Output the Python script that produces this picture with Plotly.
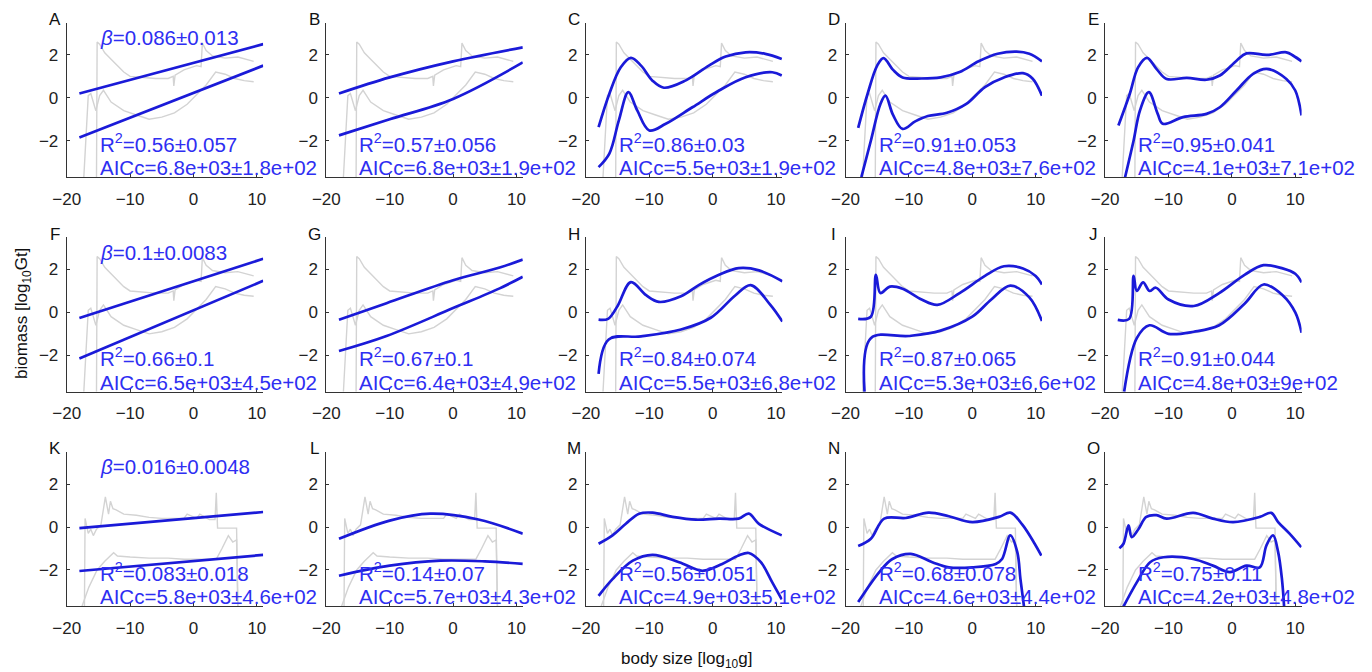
import plotly.graph_objects as go

# ---------------- data ----------------
panel_letters = ["A", "B", "C", "D", "E", "F", "G", "H", "I", "J", "K", "L", "M", "N", "O"]

# gray data (rows 1-2)
gray_up_x = [-15.3, -15.2, -14.8, -14.0, -13.0, -12.0, -11.0, -10.0, -8.0, -6.0, -4.0, -3.2, -3.1, -2.9,
             -1.5, 0.5, 1.2, 1.4, 2.0, 3.0, 5.0, 7.0, 9.5]
gray_up_y = [-3.7, 2.6, 2.5, 2.1, 1.8, 1.5, 1.2, 1.0, 0.95, 0.9, 0.9, 1.0, 0.55, 1.05,
             1.3, 1.5, 1.45, 2.55, 2.2, 1.95, 1.85, 1.9, 1.7]
gray_lo_x = [-17.3, -17.0, -16.6, -16.2, -15.8, -15.4, -14.8, -14.2, -13.0, -11.0, -9.0, -7.0, -5.0,
             -3.0, -1.0, 0.0, 2.0, 3.5, 5.0, 6.5, 8.0, 9.5]
gray_lo_y = [-3.7, -2.0, 0.1, 0.2, -0.2, -0.6, 0.1, 0.35, -0.2, -0.6, -0.8, -1.0, -0.9,
             -0.7, -0.3, 0.0, 0.6, 1.2, 1.1, 0.9, 0.8, 0.75]
# gray data (row 3)
gray3_up_x = [-17.2, -17.1, -16.6, -16.2, -15.8, -15.3, -14.6, -13.9, -13.4, -13.1, -12.7, -12.2, -11.0,
              -9.0, -7.0, -5.0, -3.0, -1.5, -1.0, 0.5, 1.0, 2.5, 3.4, 3.6, 3.8, 5.0, 6.8, 7.0]
gray3_up_y = [-3.7, 0.4, -0.3, -0.1, -0.4, -0.1, 0.1, 1.4, 0.6, 1.2, 0.85, 0.8, 0.6,
              0.55, 0.45, 0.4, 0.4, 0.4, 0.6, 0.4, 0.6, 0.35, 0.35, 1.6, -0.05, -0.05, -0.05, -3.7]
gray3_lo_x = [-17.6, -16.5, -15.2, -14.0, -12.6, -12.0, -10.0, -7.0, -4.0, -1.5, 1.0, 3.6, 4.5,
              5.5, 6.2, 6.8, 7.0]
gray3_lo_y = [-3.7, -2.8, -2.0, -1.6, -1.2, -1.35, -1.4, -1.45, -1.45, -1.5, -1.5, -1.5, -1.0,
              -0.4, -0.7, -0.6, -3.7]

# blue fits: upper and lower curve per panel
fit_x = {
    "A": ([-18, 11], [-18, 11]),
    "B": ([-18, -10, 0, 11], [-18, -10, 0, 11]),
    "C": ([-18, -16.3, -14.5, -12.9, -11.3, -9.5, -7.7, -4.3, -0.6, 2.05, 5.2, 8.3, 10.9],
          [-18, -16.3, -14.8, -13.3, -11.9, -10, -7.4, -3.2, 1.0, 5.2, 9.4, 10.9]),
    "D": ([-18, -16.5, -15, -14, -12.5, -11, -8, -5, -2, 1, 4, 7, 9, 11],
          [-17.5, -16, -14.5, -13.7, -12.5, -11, -9, -7, -4, -1, 2, 5, 8, 9.5, 11]),
    "E": ([-17.9, -16.1, -14.8, -13.4, -11.9, -10.3, -7.1, -4, -1.9, 0.73, 2.3, 5.5, 8.6, 9.7, 11],
          [-16.85, -15.5, -14.5, -13.1, -11.7, -10.9, -7.7, -4, -1.9, 0.73, 3.35, 5.5, 8.6, 10, 11]),
    "F": ([-18, 11], [-18, 11]),
    "G": ([-18, -10.5, 0, 7.35, 11], [-18, -10.5, 0, 7.35, 11]),
    "H": ([-18, -16.5, -15, -12.9, -10.5, -8.5, -5, -2.2, 1, 4.1, 7.3, 11],
          [-18, -16.4, -11.3, -5, -0.3, 3.6, 6, 9.1, 11]),
    "I": ([-18, -16, -15.2, -14.5, -13, -11, -8, -5.5, -2, 2, 5, 8, 10, 11],
          [-17, -16, -10, -5, 0, 3, 6, 9, 11]),
    "J": ([-18, -16.2, -15.5, -15, -14, -13, -12, -10, -6, -2, 2, 5, 8, 10, 11],
          [-17, -15, -13, -10, -6, -2, 2, 5, 8, 10, 11]),
    "K": ([-18, 11], [-18, 11]),
    "L": ([-18, -10, -3.6, 4, 11], [-18, -10, -2, 5, 11]),
    "M": ([-18, -15.8, -13.7, -11.6, -9.5, -6.3, -2.65, 1, 4.1, 5.7, 7.3, 10.9],
          [-18, -15.8, -12.6, -9.5, -5.3, -1.6, 1.5, 4.1, 5.7, 7.6, 9.4, 10.9]),
    "N": ([-18, -16, -13.9, -10.5, -6.9, -3.7, 0, 4.2, 6, 7.9, 10.9],
          [-18, -14.7, -12.6, -9.7, -6.3, -3.7, 0, 3.7, 4.7, 6, 7.1, 7.6, 8.2]),
    "O": ([-17.75, -17.1, -16.3, -15.8, -14.7, -13.5, -11.9, -10.3, -6.1, -3, 0.2, 4.4, 6.2, 7.3, 9.1, 10.95],
          [-17.2, -15, -12.9, -10.8, -6.1, -3, -0.3, 2.3, 4.4, 5.45, 6.5, 7.3, 7.9, 8.25]),
}
fit_y = {
    "A": ([0.2, 2.5], [-1.85, 1.5]),
    "B": ([0.2, 0.95, 1.7, 2.35], [-1.75, -1.0, -0.05, 1.65]),
    "C": ([-1.37, 0.19, 1.42, 1.86, 1.5, 0.8, 0.47, 0.8, 1.5, 1.92, 2.12, 2.05, 1.81],
          [-3.23, -2.6, -1.05, 0.26, -0.59, -1.52, -1.21, -0.44, 0.34, 0.96, 1.19, 1.04]),
    "D": ([-1.4, 0.2, 1.5, 1.85, 1.3, 0.95, 0.9, 0.95, 1.2, 1.7, 2.05, 2.15, 2.05, 1.7],
          [-3.7, -2.0, -0.3, 0.1, -0.8, -1.45, -1.1, -0.85, -0.7, -0.3, 0.5, 0.95, 1.15, 0.9, 0.1]),
    "E": ([-1.29, 0.19, 1.42, 1.86, 1.35, 0.88, 0.93, 0.84, 1.04, 1.73, 2.07, 2.0, 2.12, 1.96, 1.7],
          [-3.7, -1.99, -0.59, 0.26, -0.75, -1.21, -0.9, -0.75, -0.44, 0.34, 1.12, 1.35, 0.88, 0.34, -0.82]),
    "F": ([-0.26, 2.5], [-2.15, 1.47]),
    "G": ([-0.34, 0.43, 1.5, 2.09, 2.46], [-1.8, -1.1, 0.2, 1.12, 1.66]),
    "H": ([-0.34, -0.3, 0.3, 1.41, 0.8, 0.49, 0.75, 1.27, 1.75, 2.06, 1.96, 1.45],
          [-2.87, -1.26, -1.12, -0.8, -0.25, 0.8, 1.27, 0.35, -0.43]),
    "I": ([-0.3, -0.2, 1.75, 0.9, 1.2, 1.1, 0.6, 0.35, 0.9, 1.7, 2.15, 2.05, 1.7, 1.3],
          [-3.7, -1.2, -1.1, -0.85, -0.2, 0.6, 1.25, 0.7, -0.4]),
    "J": ([-0.35, -0.3, 1.7, 1.0, 1.4, 1.0, 1.15, 0.6, 0.3, 0.9, 1.75, 2.2, 2.05, 1.8, 1.4],
          [-3.7, -1.2, -0.6, -1.0, -0.9, -0.6, 0.4, 1.3, 0.8, 0.0, -0.95]),
    "K": ([-0.05, 0.7], [-2.05, -1.3]),
    "L": ([-0.55, 0.3, 0.62, 0.35, -0.31], [-2.27, -1.8, -1.57, -1.6, -1.72]),
    "M": ([-0.78, -0.39, 0.15, 0.62, 0.67, 0.47, 0.34, 0.39, 0.39, 0.62, 0.15, -0.39],
          [-3.21, -2.43, -1.57, -1.3, -1.64, -2.04, -1.72, -1.33, -1.21, -1.64, -2.58, -3.37]),
    "N": ([-0.89, -0.55, 0.39, 0.42, 0.67, 0.5, 0.23, 0.47, 0.67, 0.11, -1.33],
          [-3.5, -2.11, -1.49, -1.25, -1.64, -1.88, -1.88, -1.72, -1.49, -0.39, -1.17, -2.43, -3.8]),
    "O": ([-0.99, -0.78, 0.08, -0.47, -0.08, 0.47, 0.55, 0.39, 0.66, 0.39, 0.23, 0.47, 0.66, 0.23, -0.31, -0.94],
          [-3.76, -2.58, -1.64, -1.41, -1.49, -1.8, -2.1, -1.8, -1.88, -0.86, -0.39, -1.17, -2.43, -3.76]),
}

beta_text = {"A": "0.086±0.013", "F": "0.1±0.0083", "K": "0.016±0.0048"}
r2_text = ["0.56±0.057", "0.57±0.056", "0.86±0.03", "0.91±0.053", "0.95±0.041",
           "0.66±0.1", "0.67±0.1", "0.84±0.074", "0.87±0.065", "0.91±0.044",
           "0.083±0.018", "0.14±0.07", "0.56±0.051", "0.68±0.078", "0.75±0.11"]
aicc_text = ["6.8e+03±1.8e+02", "6.8e+03±1.9e+02", "5.5e+03±1.9e+02", "4.8e+03±7.6e+02", "4.1e+03±7.1e+02",
             "6.5e+03±4.5e+02", "6.4e+03±4.9e+02", "5.5e+03±6.8e+02", "5.3e+03±6.6e+02", "4.8e+03±9e+02",
             "5.8e+03±4.6e+02", "5.7e+03±4.3e+02", "4.9e+03±5.1e+02", "4.6e+03±4.4e+02", "4.2e+03±4.8e+02"]

x_ticks = [-20, -10, 0, 10]
y_ticks = [-2, 0, 2]

# ---------------- styling / layout ----------------
W, H = 1372, 672
FONT = "Liberation Sans, Arial, Helvetica, sans-serif"
BLUE_LINE = "#1a1ad8"
BLUE_TEXT = "#2e2ef2"
GRAY = "#d3d3d3"
AX_COL = "#333333"
TXT = 20.5

left0, col_step, pw = 66.7, 259.6, 196.5
top0, row_step, ph = 22.7, 214.6, 154.5

fig = go.Figure()
annotations = []

for i, L in enumerate(panel_letters):
    r, c = divmod(i, 5)
    n = i + 1
    xa = "x" if n == 1 else f"x{n}"
    ya = "y" if n == 1 else f"y{n}"
    xl = left0 + c * col_step
    yt = top0 + r * row_step
    dom_x = [xl / W, (xl + pw) / W]
    dom_y = [1 - (yt + ph) / H, 1 - yt / H]
    axis_common = dict(showgrid=False, zeroline=False, showline=True, linecolor=AX_COL, linewidth=1,
                       ticks="inside", ticklen=3, tickcolor=AX_COL, automargin=False,
                       tickfont=dict(family=FONT, size=17, color="#222222"))
    fig.layout[f"xaxis{'' if n == 1 else n}"] = dict(domain=dom_x, range=[-20, 11], anchor=ya,
                                                     tickvals=x_ticks, ticklabelstandoff=6, **axis_common)
    fig.layout[f"yaxis{'' if n == 1 else n}"] = dict(domain=dom_y, range=[-3.7, 3.5], anchor=xa,
                                                     tickvals=y_ticks, ticklabelstandoff=4, **axis_common)

    if r < 2:
        gsets = [(gray_up_x, gray_up_y), (gray_lo_x, gray_lo_y)]
    else:
        gsets = [(gray3_up_x, gray3_up_y), (gray3_lo_x, gray3_lo_y)]
    for gx, gy in gsets:
        fig.add_trace(go.Scatter(x=gx, y=gy, mode="lines", line=dict(color=GRAY, width=1.4),
                                 xaxis=xa, yaxis=ya, showlegend=False, hoverinfo="skip"))
    for k in range(2):
        fig.add_trace(go.Scatter(x=fit_x[L][k], y=fit_y[L][k], mode="lines",
                                 line=dict(color=BLUE_LINE, width=2.7, shape="spline", smoothing=1.0),
                                 xaxis=xa, yaxis=ya, showlegend=False, hoverinfo="skip"))

    # panel letter
    annotations.append(dict(text=L, x=(xl - 12) / W, y=1 - (yt - 3) / H, xref="paper", yref="paper",
                            xanchor="center", yanchor="middle", showarrow=False,
                            font=dict(family=FONT, size=17, color="#111111")))
    if L in beta_text:
        annotations.append(dict(text=f"<i>β</i>={beta_text[L]}", x=-15.1, y=2.8, xref=xa, yref=ya,
                                xanchor="left", yanchor="middle", showarrow=False,
                                font=dict(family=FONT, size=TXT, color=BLUE_TEXT)))
    annotations.append(dict(text=f"R<sup>2</sup>={r2_text[i]}", x=-15.1, y=-2.1, xref=xa, yref=ya,
                            xanchor="left", yanchor="middle", showarrow=False,
                            font=dict(family=FONT, size=TXT, color=BLUE_TEXT)))
    annotations.append(dict(text=f"AICc={aicc_text[i]}", x=-15.1, y=-3.25, xref=xa, yref=ya,
                            xanchor="left", yanchor="middle", showarrow=False,
                            font=dict(family=FONT, size=TXT, color=BLUE_TEXT)))

annotations.append(dict(text="body size [log<sub>10</sub>g]", x=686 / W, y=1 - 660 / H, xref="paper",
                        yref="paper", xanchor="center", yanchor="middle", showarrow=False,
                        font=dict(family=FONT, size=17, color="#111111")))
annotations.append(dict(text="biomass [log<sub>10</sub>Gt]", x=23 / W, y=1 - 314 / H, xref="paper",
                        yref="paper", xanchor="center", yanchor="middle", showarrow=False, textangle=-90,
                        font=dict(family=FONT, size=17, color="#111111")))

fig.update_layout(width=W, height=H, margin=dict(l=0, r=0, t=0, b=0, autoexpand=False),
                  paper_bgcolor="white", plot_bgcolor="white", annotations=annotations,
                  showlegend=False)

fig.write_html("out.html", config={"displayModeBar": False},
               post_script="document.body.style.margin='0';document.body.style.overflow='hidden';")
